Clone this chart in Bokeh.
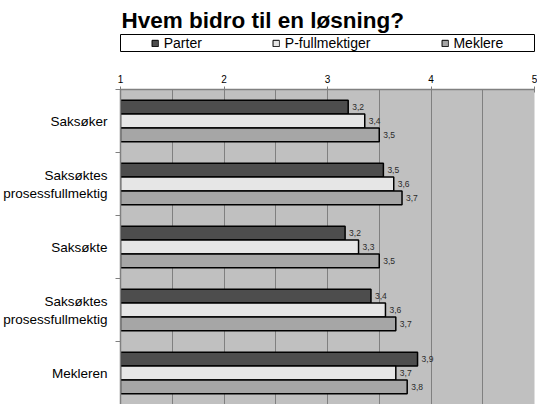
import numpy as np
from bokeh.plotting import figure
from bokeh.models import Range1d, FixedTicker, Legend, LegendItem, ColumnDataSource
from bokeh.layouts import column
from bokeh.embed import file_html
from bokeh.resources import INLINE
from bokeh.core.properties import value

# ---- data ----
title_text = "Hvem bidro til en løsning?"
categories = ["Saksøker", "Saksøktes\nprosessfullmektig", "Saksøkte",
              "Saksøktes\nprosessfullmektig", "Mekleren"]
series_names = ["Parter", "P-fullmektiger", "Meklere"]
parter = [3.20, 3.54, 3.17, 3.42, 3.87]
p_fullmektiger = [3.36, 3.64, 3.30, 3.56, 3.66]
meklere = [3.50, 3.72, 3.50, 3.66, 3.77]
x_ticks = [1, 2, 3, 4, 5]
grid_ticks = [1.5, 2, 2.5, 3, 3.5, 4, 4.5]
colors = ["#4D4D4D", "#E6E6E6", "#A6A6A6"]

FONT = "Liberation Sans"
BAR_H = 0.22
W = 537

ypos = np.arange(1, len(categories) + 1)
series = [parter, p_fullmektiger, meklere]

# ---- header: title + legend box ----
h = figure(width=W, height=52, x_range=Range1d(0, 1), y_range=Range1d(0, 1),
           x_axis_location=None, y_axis_location=None, output_backend="svg",
           toolbar_location=None, min_border_left=112, min_border_right=3,
           min_border_top=34, min_border_bottom=0, outline_line_color="black",
           outline_line_width=1, background_fill_color="white",
           border_fill_color="white", title=title_text)
h.xgrid.visible = False
h.ygrid.visible = False
h.title.text_font = FONT
h.title.text_font_size = "22.5px"
h.title.text_font_style = "bold"
h.title.text_color = "black"
h.title.align = "left"
h.title.vertical_align = "top"
h.title.standoff = 0
h.title.offset = 1

items = []
for name, vals, c in zip(series_names, series, colors):
    r = h.hbar(y=ypos, left=1, right=vals, height=BAR_H,
               fill_color=c, line_color="black", line_width=1, visible=False)
    items.append(LegendItem(label=name, renderers=[r]))
legend = Legend(items=items, orientation="horizontal", location="center",
                spacing=70, padding=0, margin=0, label_standoff=5,
                glyph_width=8, glyph_height=8, label_height=16,
                label_text_font=FONT, label_text_font_size="14px",
                label_text_color="black", border_line_color=None,
                background_fill_alpha=0, click_policy="none")
h.add_layout(legend, "center")

# ---- main chart ----
p = figure(width=W, height=352, x_range=Range1d(1, 5), y_range=Range1d(5.5, 0.5),
           x_axis_location="above", output_backend="svg", toolbar_location=None,
           min_border_left=112, min_border_right=3, min_border_top=37,
           min_border_bottom=0, background_fill_color="#C0C0C0",
           border_fill_color="white", outline_line_color=None)

offsets = [-BAR_H, 0.0, BAR_H]
for vals, c, off in zip(series, colors, offsets):
    src = ColumnDataSource(dict(
        y=ypos + off, right=vals,
        label=[f"{v:.1f}".replace(".", ",") for v in vals]))
    p.hbar(y="y", left=1, right="right", height=BAR_H, source=src,
           fill_color=c, line_color="black", line_width=1.5)
    p.text(x="right", y="y", text="label", source=src, x_offset=4,
           text_baseline="middle", text_font_size="8.5px", text_color="#2A2A2A",
           text_font=value(FONT))

xa = p.xaxis[0]
xa.ticker = FixedTicker(ticks=x_ticks)
xa.major_label_text_font = FONT
xa.major_label_text_font_size = "10px"
xa.major_label_text_color = "black"
xa.axis_line_color = "#808080"
xa.axis_line_width = 1.5
xa.major_tick_line_color = "#808080"
xa.major_tick_out = 3
xa.major_tick_in = 3
xa.minor_tick_line_color = None
xa.major_label_standoff = 4

p.xgrid.ticker = FixedTicker(ticks=grid_ticks)
p.xgrid.grid_line_color = "#808080"
p.xgrid.grid_line_width = 1
p.ygrid.visible = False

ya = p.yaxis[0]
ya.ticker = FixedTicker(ticks=[int(v) for v in ypos],
                        minor_ticks=[float(v) - 0.5 for v in ypos] + [float(ypos[-1]) + 0.5])
ya.major_label_overrides = {int(i): cat for i, cat in zip(ypos, categories)}
ya.major_label_text_font = FONT
ya.major_label_text_font_size = "13.5px"
ya.major_label_text_color = "black"
ya.major_tick_line_color = None
ya.major_tick_out = 0
ya.major_tick_in = 0
ya.minor_tick_line_color = "#808080"
ya.minor_tick_out = 5
ya.minor_tick_in = 0
ya.axis_line_color = "#808080"
ya.axis_line_width = 1.5
ya.major_label_standoff = 8

layout = column(h, p)
open("out.html", "w").write(file_html(layout, INLINE))
